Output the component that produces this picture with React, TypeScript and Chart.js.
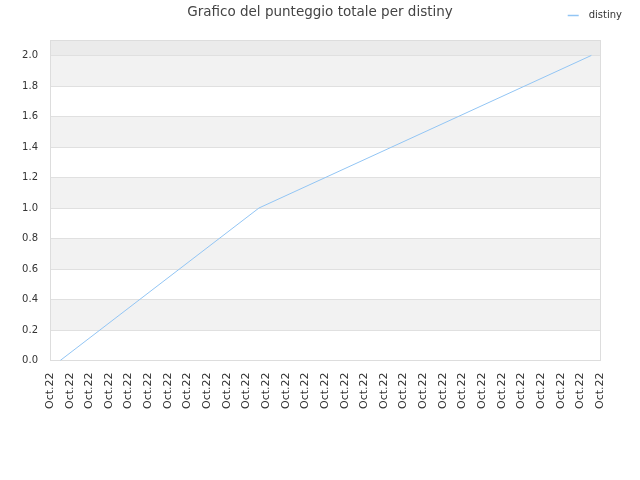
import React, { useEffect, useRef } from 'react';
import Chart from 'chart.js/auto';

// Données
const seriesLabel = 'distiny';
const xTickLabels = [
  'Oct.22', 'Oct.22', 'Oct.22', 'Oct.22', 'Oct.22', 'Oct.22', 'Oct.22', 'Oct.22',
  'Oct.22', 'Oct.22', 'Oct.22', 'Oct.22', 'Oct.22', 'Oct.22', 'Oct.22', 'Oct.22',
  'Oct.22', 'Oct.22', 'Oct.22', 'Oct.22', 'Oct.22', 'Oct.22', 'Oct.22', 'Oct.22',
  'Oct.22', 'Oct.22', 'Oct.22', 'Oct.22', 'Oct.22',
];
const yTickValues = [0, 0.2, 0.4, 0.6, 0.8, 1.0, 1.2, 1.4, 1.6, 1.8, 2.0];
const pointPositions = [0.52, 10.64, 27.56];
const scores = [0, 1, 2];

const FONT = '"DejaVu Sans", sans-serif';
const LINE_COLOR = '#92c5f4';

// Bandes grises alternées + cadre autour de la zone de tracé
const bandsPlugin = {
  id: 'bands',
  beforeDatasetsDraw(chart: any) {
    const { ctx, chartArea, scales } = chart;
    const y = scales.y;
    const ticks = y.ticks;
    ctx.save();
    for (let i = 0; i < ticks.length - 1; i++) {
      if (i % 2 === 1) {
        const top = y.getPixelForValue(ticks[i + 1].value);
        const bottom = y.getPixelForValue(ticks[i].value);
        ctx.fillStyle = '#f2f2f2';
        ctx.fillRect(chartArea.left, top, chartArea.right - chartArea.left, bottom - top);
      }
    }
    const lastTop = y.getPixelForValue(ticks[ticks.length - 1].value);
    ctx.fillStyle = '#ebebeb';
    ctx.fillRect(chartArea.left, chartArea.top, chartArea.right - chartArea.left, lastTop - chartArea.top);
    // lignes de grille
    ctx.strokeStyle = '#e0e0e0';
    ctx.lineWidth = 1;
    ticks.forEach((t: any) => {
      const py = Math.round(y.getPixelForValue(t.value)) + 0.5;
      ctx.beginPath();
      ctx.moveTo(chartArea.left, py);
      ctx.lineTo(chartArea.right, py);
      ctx.stroke();
    });
    ctx.strokeStyle = '#dddddd';
    ctx.strokeRect(
      Math.round(chartArea.left) + 0.5,
      Math.round(chartArea.top) + 0.5,
      Math.round(chartArea.right - chartArea.left),
      Math.round(chartArea.bottom - chartArea.top)
    );
    ctx.restore();
  },
};

// Légende en haut à droite, sur la ligne du titre
const legendPlugin = {
  id: 'topRightLegend',
  afterDraw(chart: any) {
    const { ctx } = chart;
    const ds = chart.data.datasets[0];
    ctx.save();
    ctx.font = `10px ${FONT}`;
    ctx.textBaseline = 'middle';
    ctx.textAlign = 'left';
    const textW = ctx.measureText(ds.label).width;
    const textX = chart.width - 18 - textW;
    const cy = 15;
    ctx.strokeStyle = ds.borderColor;
    ctx.lineWidth = 1.5;
    ctx.beginPath();
    ctx.moveTo(textX - 21, cy + 0.5);
    ctx.lineTo(textX - 10, cy + 0.5);
    ctx.stroke();
    ctx.fillStyle = '#333333';
    ctx.fillText(ds.label, textX, cy);
    ctx.restore();
  },
};

const App: React.FC = () => {
  const canvasRef = useRef<HTMLCanvasElement>(null);
  const chartRef = useRef<Chart | null>(null);

  useEffect(() => {
    if (!canvasRef.current) return;
    chartRef.current?.destroy();

    chartRef.current = new Chart(canvasRef.current, {
      type: 'line',
      data: {
        datasets: [
          {
            label: seriesLabel,
            data: pointPositions.map((x, i) => ({ x, y: scores[i] })),
            borderColor: LINE_COLOR,
            backgroundColor: LINE_COLOR,
            borderWidth: 1,
            pointRadius: 0,
            tension: 0,
            fill: false,
            yAxisID: 'y',
          },
        ],
      },
      options: {
        responsive: false,
        animation: false,
        layout: { padding: { left: 0, right: 0, top: 0, bottom: 59 } },
        scales: {
          x: {
            type: 'linear',
            min: 0,
            max: xTickLabels.length - 1,
            grid: { display: false, drawTicks: false },
            border: { display: false },
            ticks: {
              stepSize: 1,
              autoSkip: false,
              maxRotation: 90,
              minRotation: 90,
              padding: 12,
              color: '#333333',
              font: { family: FONT, size: 11 },
              callback: (v: any) => xTickLabels[Math.round(Number(v))] ?? '',
            },
          },
          y: {
            min: 0,
            max: 2.1,
            grid: { display: false, drawTicks: false },
            border: { display: false },
            afterBuildTicks: (scale: any) => {
              scale.ticks = yTickValues.map((value) => ({ value }));
            },
            afterFit: (scale: any) => {
              scale.width = 50;
            },
            ticks: {
              padding: 12,
              color: '#333333',
              font: { family: FONT, size: 10 },
              callback: (v: any) => Number(v).toFixed(1),
            },
          },
          // axe vide à droite : réserve la marge droite sans décentrer le titre
          yRight: {
            position: 'right',
            grid: { display: false, drawTicks: false },
            border: { display: false },
            ticks: { display: false },
            afterFit: (scale: any) => {
              scale.width = 40;
            },
          },
        },
        plugins: {
          legend: { display: false },
          tooltip: { enabled: false },
          title: {
            display: true,
            text: 'Grafico del punteggio totale per distiny',
            color: '#444444',
            font: { family: FONT, size: 13.5, weight: 'normal' },
            padding: { top: 4, bottom: 20 },
          },
        },
      },
      plugins: [bandsPlugin, legendPlugin],
    });

    return () => {
      chartRef.current?.destroy();
      chartRef.current = null;
    };
  }, []);

  return (
    <div style={{ position: 'fixed', left: 0, top: 0, width: 640, height: 480, background: '#fff' }}>
      <canvas ref={canvasRef} width={640} height={480}></canvas>
    </div>
  );
};

export default App;
